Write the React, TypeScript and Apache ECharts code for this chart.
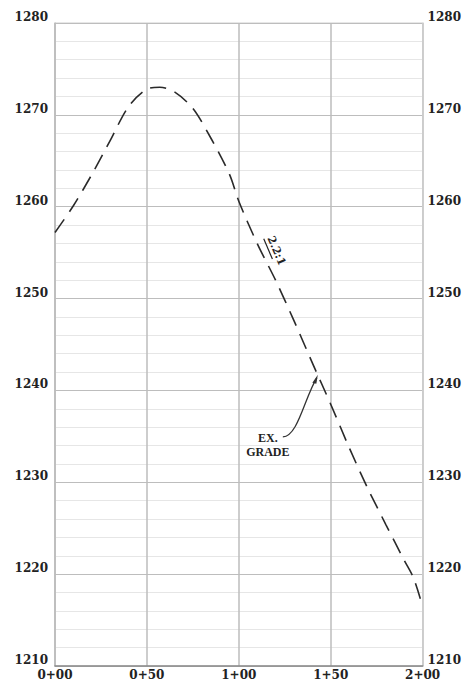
import React, { useEffect, useRef } from "react";
import * as echarts from "echarts";

// Existing grade profile: station (ft) vs elevation (ft)
const stations = [0, 10, 20, 30, 40, 50, 57, 65, 75, 85, 95, 100, 110, 120, 130, 140, 150, 160, 170, 180, 190, 195, 200];
const elevations = [
  1257.2, 1260.1, 1263.5, 1267.2, 1270.9, 1272.8, 1273.0, 1272.5, 1270.7, 1267.4, 1263.5, 1260.6,
  1256.0, 1252.0, 1247.6, 1243.0, 1238.5, 1233.8, 1229.4, 1225.4, 1221.5, 1219.6, 1216.5,
];

const stationTicks = [0, 50, 100, 150, 200];
const stationLabels = ["0+00", "0+50", "1+00", "1+50", "2+00"];
const elevationTicks = [1210, 1220, 1230, 1240, 1250, 1260, 1270, 1280];

const slopeLabel = "2.2:1";
const slopeLabelAt = [120.5, 1255.2];
const gradeLabelLines = ["EX.", "GRADE"];
const gradeArrowAt = [143, 1241.7];

export default function App() {
  const ref = useRef<HTMLDivElement>(null);

  useEffect(() => {
    document.body.style.margin = "0";
    const chart = echarts.init(ref.current!, null, { renderer: "svg" });
    const labelFont = {
      fontFamily: "DejaVu Serif",
      fontSize: 12,
      fontWeight: "bold" as const,
      color: "#222",
    };
    const yMin = elevationTicks[0];
    const yMax = elevationTicks[elevationTicks.length - 1];
    const yStep = elevationTicks[1] - elevationTicks[0];
    const yFmt = (v: number) => (elevationTicks.indexOf(v) >= 0 ? String(v) : "");

    chart.setOption({
      animation: false,
      backgroundColor: "#ffffff",
      grid: {
        left: 55,
        right: 41,
        top: 23,
        bottom: 19,
        show: true,
        borderColor: "#cfcfcf",
        borderWidth: 1,
      },
      xAxis: {
        type: "value",
        min: stationTicks[0],
        max: stationTicks[stationTicks.length - 1],
        interval: stationTicks[1] - stationTicks[0],
        axisLine: { show: true, lineStyle: { color: "#8a8a8a", width: 1.5 } },
        axisTick: { show: false },
        splitLine: { show: true, lineStyle: { color: "#bdbdbd", width: 1.5 } },
        axisLabel: {
          ...labelFont,
          margin: 3,
          formatter: (v: number) => {
            const i = stationTicks.indexOf(v);
            return i >= 0 ? stationLabels[i] : "";
          },
        },
      },
      yAxis: [
        {
          type: "value",
          position: "left",
          min: yMin,
          max: yMax,
          interval: yStep,
          axisLine: { show: true, lineStyle: { color: "#bdbdbd", width: 1.5 } },
          axisTick: { show: false },
          minorTick: { show: false, splitNumber: 5 },
          splitLine: { show: true, lineStyle: { color: "#bdbdbd", width: 1.2 } },
          minorSplitLine: { show: true, lineStyle: { color: "#e6e6e6", width: 1 } },
          axisLabel: { ...labelFont, margin: 7, verticalAlign: "bottom", formatter: yFmt },
        },
        {
          type: "value",
          position: "right",
          min: yMin,
          max: yMax,
          interval: yStep,
          axisLine: { show: true, lineStyle: { color: "#cfcfcf", width: 1.5 } },
          axisTick: { show: false },
          splitLine: { show: false },
          axisLabel: { ...labelFont, margin: 5, verticalAlign: "bottom", formatter: yFmt },
        },
      ],
      series: [
        {
          type: "line",
          yAxisIndex: 0,
          data: stations.map((s, i) => [s, elevations[i]]),
          smooth: 0.3,
          showSymbol: false,
          lineStyle: { color: "#2a2a2a", width: 1.6, type: [16, 9] },
        },
      ],
    });

    const toPx = (pt: number[]) => chart.convertToPixel({ seriesIndex: 0 }, pt) as number[];
    const sl = toPx(slopeLabelAt);
    const tip = toPx(gradeArrowAt);
    const rot = (-66.8 * Math.PI) / 180;

    chart.setOption({
      graphic: [
        {
          type: "group",
          x: sl[0],
          y: sl[1],
          rotation: rot,
          children: [
            {
              type: "text",
              x: 0,
              y: 0,
              style: {
                text: slopeLabel,
                font: "bold 11px 'DejaVu Serif'",
                fill: "#222",
                align: "center",
                verticalAlign: "middle",
              },
            },
            {
              type: "line",
              shape: { x1: -16, y1: 7, x2: 6, y2: 7 },
              style: { stroke: "#222", lineWidth: 1.2 },
            },
          ],
        },
        {
          type: "text",
          x: tip[0] - 50,
          y: tip[1] + 63,
          style: {
            text: gradeLabelLines[0],
            font: "bold 12px 'Liberation Serif'",
            fill: "#222",
            align: "center",
            verticalAlign: "middle",
          },
        },
        {
          type: "text",
          x: tip[0] - 50,
          y: tip[1] + 77,
          style: {
            text: gradeLabelLines[1],
            font: "bold 12px 'Liberation Serif'",
            fill: "#222",
            align: "center",
            verticalAlign: "middle",
          },
        },
        {
          type: "bezierCurve",
          shape: {
            x1: tip[0] - 35,
            y1: tip[1] + 62,
            cpx1: tip[0] - 20,
            cpy1: tip[1] + 62,
            cpx2: tip[0] - 13,
            cpy2: tip[1] + 22,
            x2: tip[0] - 1,
            y2: tip[1] + 3,
          },
          style: { stroke: "#333", lineWidth: 1.3, fill: null },
        },
        {
          type: "polygon",
          shape: {
            points: [
              [tip[0], tip[1]],
              [tip[0] - 5.5, tip[1] + 8],
              [tip[0] - 1.5, tip[1] + 9],
            ],
          },
          style: { fill: "#333" },
        },
      ],
    });

    return () => chart.dispose();
  }, []);

  return (
    <div
      ref={ref}
      style={{ position: "fixed", left: 0, top: 0, width: 464, height: 685, background: "#fff" }}
    />
  );
}
